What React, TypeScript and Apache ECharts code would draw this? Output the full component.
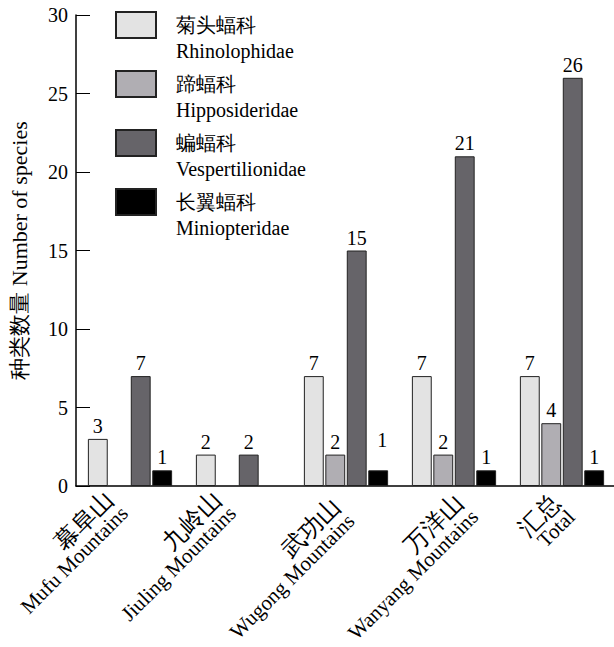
import React, { useEffect, useRef } from "react";
import * as echarts from "echarts";

const categories = [
  "幕阜山\nMufu Mountains",
  "九岭山\nJiuling Mountains",
  "武功山\nWugong Mountains",
  "万洋山\nWanyang Mountains",
  "汇总\nTotal",
];
const seriesNames = [
  "菊头蝠科\nRhinolophidae",
  "蹄蝠科\nHipposideridae",
  "蝙蝠科\nVespertilionidae",
  "长翼蝠科\nMiniopteridae",
];
const rhinolophidae = [3, 2, 7, 7, 7];
const hipposideridae = [null, null, 2, 2, 4];
const vespertilionidae = [7, 2, 15, 21, 26];
const miniopteridae = [1, null, 1, 1, 1];
const yMin = 0;
const yMax = 30;
const yInterval = 5;
const yAxisName = "种类数量 Number of species";

const colors = ["#e3e3e3", "#b0aeb3", "#666469", "#000000"];
const FONT = "serif";
// per-category label placement tweaks (padding: top, right, bottom, left)
const labelPads = [
  [0, 18, 2, 0],
  [0, 18, 2, 0],
  [24, 16, 0, 0],
  [40, 2, 0, 0],
  [24, 10, 0, 0],
];

export default function App() {
  const ref = useRef<HTMLDivElement>(null);
  useEffect(() => {
    if (!ref.current) return;
    const chart = echarts.init(ref.current, undefined, { renderer: "svg" });
    const allData = [rhinolophidae, hipposideridae, vespertilionidae, miniopteridae];
    const series = allData.map((arr, si) => ({
      name: seriesNames[si],
      type: "bar",
      barGap: "8%",
      barCategoryGap: "22%",
      itemStyle: { color: colors[si], borderColor: "#222", borderWidth: 1 },
      label: {
        show: true,
        position: "top",
        distance: 3,
        fontSize: 20,
        fontFamily: FONT,
        color: "#000",
      },
      data: arr.map((v, i) =>
        si === 3 && i === 2 && v != null
          ? { value: v, label: { offset: [4, -17] } }
          : v
      ),
    }));
    chart.setOption({
      animation: false,
      backgroundColor: "#fff",
      textStyle: { fontFamily: FONT },
      legend: {
        orient: "vertical",
        left: 115,
        top: -14,
        padding: 0,
        itemWidth: 40,
        itemHeight: 26,
        itemGap: -19,
        icon: "rect",
        selectedMode: false,
        formatter: (name: string) => "\n" + name,
        textStyle: {
          fontSize: 20,
          lineHeight: 26,
          fontFamily: FONT,
          color: "#000",
          padding: [0, 0, 0, 15],
        },
        data: seriesNames,
      },
      grid: {
        left: 76,
        right: -2,
        top: 15,
        bottom: 161,
        containLabel: false,
        outerBoundsMode: "none",
      },
      xAxis: {
        type: "category",
        data: categories.map((c, i) => ({ value: c, textStyle: { padding: labelPads[i] } })),
        axisLine: { lineStyle: { color: "#000", width: 1.5 } },
        axisTick: { inside: true, length: 14, lineStyle: { color: "#000" } },
        axisLabel: {
          rotate: 45,
          interval: 0,
          margin: 4,
          color: "#000",
          fontFamily: FONT,
          formatter: (v: string) => {
            const [cn, en] = v.split("\n");
            return `{cn|${cn}}\n{en|${en}}`;
          },
          rich: {
            cn: { fontSize: 24, lineHeight: 22, fontFamily: FONT, color: "#000", align: "right" },
            en: { fontSize: 21, lineHeight: 20, fontFamily: FONT, color: "#000", align: "right" },
          },
        },
      },
      yAxis: {
        type: "value",
        min: yMin,
        max: yMax,
        interval: yInterval,
        name: yAxisName,
        nameLocation: "middle",
        nameGap: 46,
        nameRotate: 90,
        nameTextStyle: { fontSize: 22, color: "#000", fontFamily: FONT },
        axisLine: { show: true, lineStyle: { color: "#000", width: 1.5 } },
        axisTick: { show: true, inside: true, length: 14, lineStyle: { color: "#000" } },
        splitLine: { show: false },
        axisLabel: { fontSize: 20, color: "#000", margin: 8, fontFamily: FONT },
      },
      series,
    });
    return () => chart.dispose();
  }, []);
  return (
    <div
      ref={ref}
      style={{ position: "absolute", left: 0, top: 0, width: 614, height: 647 }}
    />
  );
}
